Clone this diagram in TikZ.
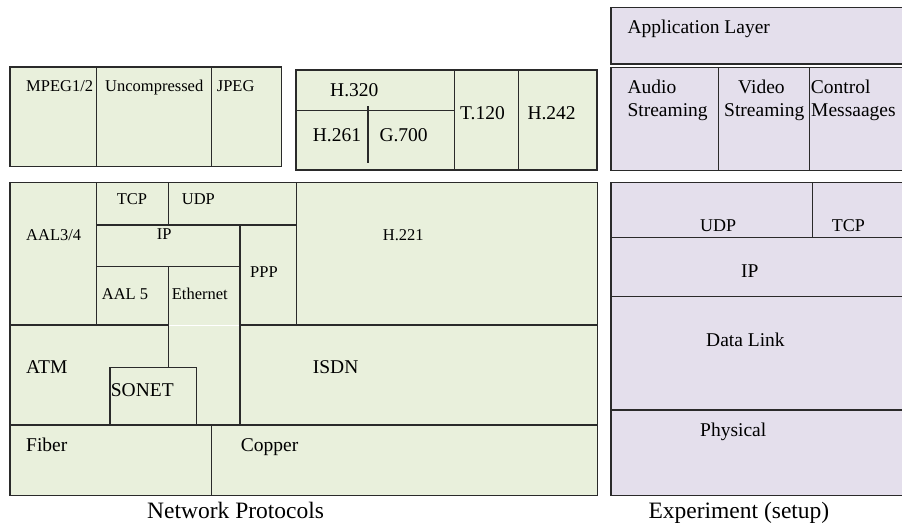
\documentclass[tikz,border=0pt]{standalone}
\usepackage{fontspec}
\setmainfont{Liberation Serif}
\definecolor{grn}{HTML}{E9F0DC}
\definecolor{lav}{HTML}{E4DFEC}
\definecolor{edgec}{HTML}{2A2A2A}
\begin{document}
\begin{tikzpicture}[x=1pt,y=-1pt,
  gbox/.style={draw=edgec,fill=grn,line width=1.5pt},
  lbox/.style={draw=edgec,fill=lav,line width=1.5pt},
  sep/.style={draw=edgec,line width=1.2pt},
  la/.style={inner sep=0pt,anchor=base west,font=\fontsize{16.5}{18}\selectfont},
  lb/.style={inner sep=0pt,anchor=base west,font=\fontsize{19.5}{22}\selectfont},
  lr/.style={inner sep=0pt,anchor=base west,font=\fontsize{18}{20}\selectfont},
  capt/.style={inner sep=0pt,anchor=base west,font=\fontsize{23.5}{26}\selectfont}]
\useasboundingbox (0,0) rectangle (902,525);

% ---------- group 1: codecs ----------
\draw[gbox] (10,67) rectangle (281.5,166.7);
\draw[sep] (96.7,67) -- (96.7,166.7);
\draw[sep] (211.3,67) -- (211.3,166.7);
\node[la] (mpeg) at (26,91) {MPEG1/2};
\node[la] (unc) at (105,91) {Uncompressed};
\node[la] (jpeg) at (216.7,91) {JPEG};

% ---------- group 2: H.320 ----------
\draw[gbox] (296,70) rectangle (597,170);
\draw[sep] (296,110.7) -- (454.3,110.7);
\draw[sep] (454.3,70) -- (454.3,170);
\draw[sep] (518.7,70) -- (518.7,170);
\draw[sep] (368,106) -- (368,162.7);
\node[lb] (h320) at (330,96) {H.320};
\node[lb] (h261) at (312.7,141.7) {H.261};
\node[lb] (g700) at (379.3,141.7) {G.700};
\node[lb] (t120) at (460,119.3) {T.120};
\node[lb] (h242) at (527.3,119.3) {H.242};

% ---------- group 3: application ----------
\draw[lbox] (611,7.3) rectangle (906,64);
\draw[lbox] (611,67.7) rectangle (906,170.7);
\draw[sep] (718.3,67.7) -- (718.3,170.7);
\draw[sep] (809.3,67.7) -- (809.3,170.7);
\node[lb] (app) at (627.3,33.3) {Application Layer};
\node[lb] (aud1) at (627.3,93.3) {Audio};
\node[lb] (aud2) at (627.3,116.7) {Streaming};
\node[lb] (vid1) at (738,93.3) {Video};
\node[lb] (vid2) at (724,116.7) {Streaming};
\node[lb] (ctl1) at (810.7,93.3) {Control};
\node[lb] (ctl2) at (811,116.7) {Messaages};

% ---------- group 4: network protocols ----------
\draw[gbox] (10,182.3) rectangle (597.3,495.7);
\draw[sep] (96.7,182.3) -- (96.7,325);
\draw[sep] (168.3,182.3) -- (168.3,225);
\draw[sep] (296.7,182.3) -- (296.7,325);
\draw[sep] (96.7,225) -- (296.7,225);
\draw[sep] (96.7,266.7) -- (240,266.7);
\draw[sep] (240,225) -- (240,425);
\draw[sep] (168.3,266.7) -- (168.3,367.7);
\draw[sep] (10,325) -- (168.3,325);
\draw[sep] (240,325) -- (597.3,325);
\draw[white,line width=0.8pt] (169,325) -- (239.4,325);
\draw[sep] (110,425) -- (110,367.7) -- (196.7,367.7) -- (196.7,425);
\draw[sep] (10,425) -- (597.3,425);
\draw[sep] (211.3,425) -- (211.3,495.7);
\node[la] (aal34) at (26,240) {AAL3/4};
\node[la] (tcpl) at (116.7,204.3) {TCP};
\node[la] (udpl) at (181.7,204.3) {UDP};
\node[la] (ipl) at (156.7,239) {IP};
\node[la] (ppp) at (250,277.7) {PPP};
\node[la] (aal5) at (101.7,299) {AAL 5};
\node[la] (eth) at (171.7,299) {Ethernet};
\node[la] (h221) at (382.7,240) {H.221};
\node[lb] (atm) at (26,373.3) {ATM};
\node[lb] (sonet) at (110.7,396.7) {SONET};
\node[lb] (isdn) at (312.7,373.3) {ISDN};
\node[lb] (fiber) at (26,451.7) {Fiber};
\node[lb] (copper) at (240.7,451.7) {Copper};
\node[capt] (netp) at (147,518.3) {Network Protocols};

% ---------- group 5: experiment ----------
\draw[lbox] (611,182.3) rectangle (906,495.7);
\draw[sep] (611,237.7) -- (906,237.7);
\draw[sep] (611,296.7) -- (906,296.7);
\draw[sep] (611,410) -- (906,410);
\draw[sep] (812.3,182.3) -- (812.3,237.7);
\node[lr] (udpr) at (700,231.7) {UDP};
\node[lr] (tcpr) at (831.7,231.7) {TCP};
\node[lb] (ipr) at (741,277.7) {IP};
\node[lb] (dl) at (706,346.7) {Data Link};
\node[lb] (phys) at (700,436.7) {Physical};
\node[capt] (expt) at (648.3,518.3) {Experiment (setup)};
\end{tikzpicture}
\end{document}
